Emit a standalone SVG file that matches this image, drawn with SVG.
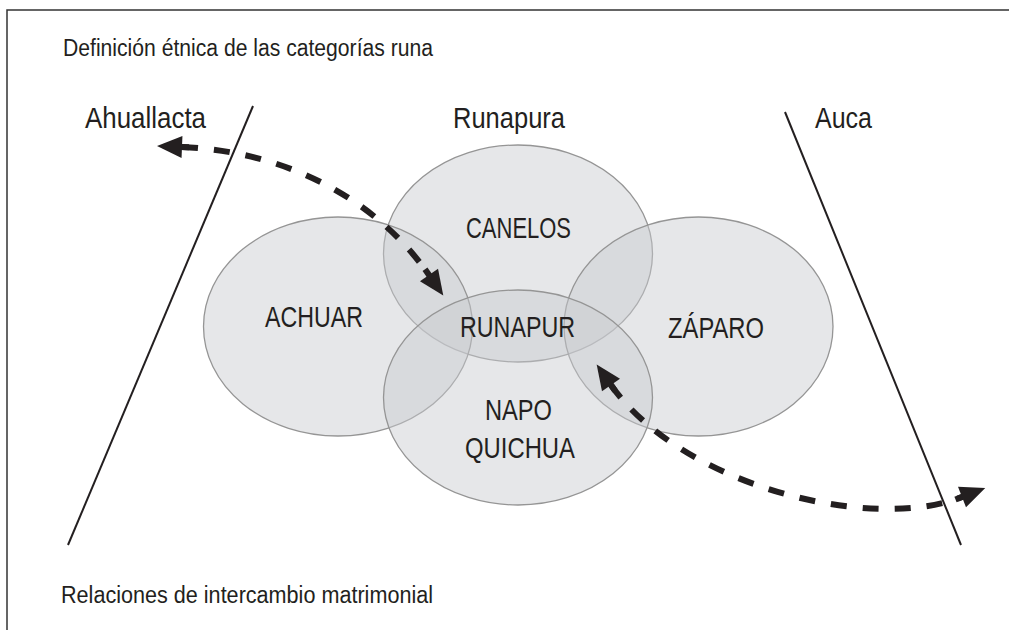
<svg xmlns="http://www.w3.org/2000/svg" width="1009" height="630" viewBox="0 0 1009 630">
<style>
.bg{fill:#ffffff}
.frame{fill:none;stroke:#333333;stroke-width:1.5}
.set{fill:#c8cace;fill-opacity:0.46;stroke:#959595;stroke-width:1.3}
.bound{fill:none;stroke:#231f20;stroke-width:2}
.cap{font-family:"Liberation Sans",Arial,sans-serif;font-size:23px;fill:#231f20}
.lab{font-family:"Liberation Sans",Arial,sans-serif;font-size:30px;fill:#231f20}
.flow{fill:none;stroke:#231f20;stroke-width:6;stroke-dasharray:16 16}
</style>
<defs>
<marker id="head" viewBox="-8 -12 34 24" refX="0" refY="0" markerWidth="34" markerHeight="24" markerUnits="userSpaceOnUse" orient="auto-start-reverse">
<rect x="-7" y="-3" width="8" height="6" fill="#231f20"/>
<path d="M0,-11 L25,0 L0,11 Z" fill="#231f20"/>
</marker>
</defs>
<rect class="bg" x="0" y="0" width="1009" height="630"/>
<path class="frame" d="M7,632 V10 H1012"/>
<text class="cap" x="63" y="56" textLength="370" lengthAdjust="spacingAndGlyphs">Definición étnica de las categorías runa</text>
<text class="cap" x="61" y="603" textLength="372" lengthAdjust="spacingAndGlyphs">Relaciones de intercambio matrimonial</text>
<g id="canelos">
<ellipse class="set" cx="518" cy="253.5" rx="134.5" ry="108.5"/>
</g>
<g id="achuar">
<ellipse class="set" cx="338" cy="326.5" rx="134.5" ry="109.5"/>
</g>
<g id="zaparo">
<ellipse class="set" cx="698.5" cy="326.5" rx="134.5" ry="109.5"/>
</g>
<g id="napo-quichua">
<ellipse class="set" cx="518" cy="397.5" rx="134.5" ry="107.5"/>
</g>
<g id="labels-sets">
<text class="lab" x="466" y="238" textLength="105" lengthAdjust="spacingAndGlyphs">CANELOS</text>
<text class="lab" x="265" y="327" textLength="98" lengthAdjust="spacingAndGlyphs">ACHUAR</text>
<text class="lab" x="668" y="338" textLength="96" lengthAdjust="spacingAndGlyphs">ZÁPARO</text>
<text class="lab" x="485" y="420" textLength="67" lengthAdjust="spacingAndGlyphs">NAPO</text>
<text class="lab" x="465" y="458" textLength="110" lengthAdjust="spacingAndGlyphs">QUICHUA</text>
</g>
<g id="runapur">
<text class="lab" x="460" y="337" textLength="115" lengthAdjust="spacingAndGlyphs">RUNAPUR</text>
</g>
<g id="ahuallacta">
<line class="bound" x1="253" y1="106" x2="68" y2="545"/>
<text class="lab" x="85" y="128" textLength="121" lengthAdjust="spacingAndGlyphs">Ahuallacta</text>
</g>
<g id="runapura">
<text class="lab" x="453" y="128" textLength="112" lengthAdjust="spacingAndGlyphs">Runapura</text>
</g>
<g id="auca">
<line class="bound" x1="785" y1="112" x2="961" y2="545"/>
<text class="lab" x="815" y="128" textLength="57" lengthAdjust="spacingAndGlyphs">Auca</text>
</g>
<g id="connectors">
<path class="flow" d="M182,147 C282,151 374,196 429,275" marker-start="url(#head)" marker-end="url(#head)"/>
<path class="flow" d="M611,385 C681,485 870,533 962,497" marker-start="url(#head)" marker-end="url(#head)"/>
</g>
</svg>
